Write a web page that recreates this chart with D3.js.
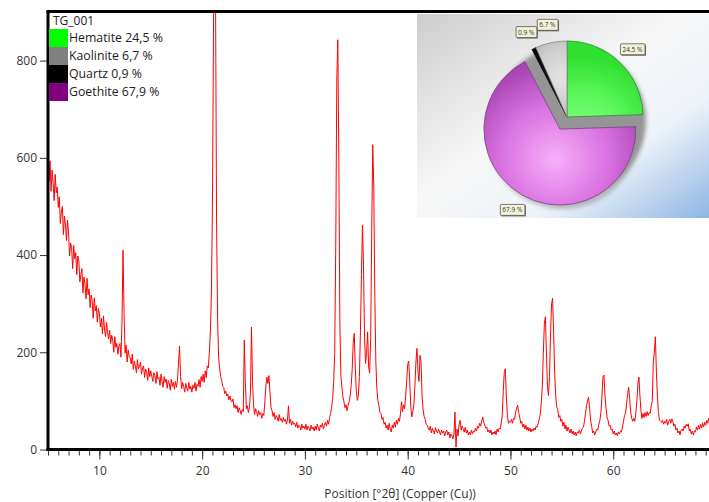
<!DOCTYPE html>
<html>
<head>
<meta charset="utf-8">
<script src="https://cdn.jsdelivr.net/npm/d3@7"></script>
<style>
body { margin: 0; background: #fff; overflow: hidden; }
text { font-family: "Open Sans", "Noto Sans", sans-serif; }
</style>
</head>
<body>
<div id="chart"></div>
<script>
// DATA
// scan grid (degrees 2theta) and measured counts, one row per degree
var scanStart = 5, scanStep = 0.1;
var counts = [
  645, 552, 594, 531, 575, 548, 512, 566, 528, 540,
  498, 520, 465, 488, 500, 442, 480, 462, 430, 472,
  445, 398, 425, 415, 372, 420, 392, 405, 360, 398,
  388, 345, 360, 372, 322, 355, 340, 310, 352, 318,
  330, 292, 318, 305, 270, 312, 285, 296, 262, 290,
  280, 252, 270, 238, 275, 248, 232, 262, 240, 228,
  245, 218, 235, 225, 200, 232, 210, 218, 196, 214,
  218, 190, 262, 410, 280, 198, 215, 180, 205, 192,
  188, 176, 196, 165, 182, 172, 158, 185, 166, 170,
  180, 155, 168, 172, 148, 165, 160, 142, 168, 150,
  162, 150, 140, 158, 152, 136, 160, 145, 148, 132,
  155, 140, 128, 150, 138, 145, 126, 142, 135, 122,
  145, 130, 138, 124, 140, 128, 142, 178, 213, 150,
  125, 138, 130, 118, 136, 126, 120, 138, 124, 130,
  118, 132, 126, 138, 120, 134, 130, 144, 128, 150,
  140, 155, 138, 162, 148, 172, 168, 200, 240, 320,
  500, 850, 1150, 950, 480, 270, 190, 168, 150, 142,
  130, 128, 115, 120, 110, 114, 102, 110, 100, 98,
  104, 86, 92, 84, 90, 76, 86, 80, 72, 82,
  78, 225, 140, 84, 90, 76, 86, 118, 252, 140,
  92, 72, 84, 78, 68, 80, 72, 76, 64, 74,
  70, 98, 130, 149, 136, 152, 118, 86, 80, 68,
  76, 62, 70, 66, 58, 72, 60, 64, 56, 66,
  58, 62, 52, 60, 90, 54, 62, 50, 58, 52,
  54, 46, 56, 44, 50, 48, 40, 52, 44, 48,
  42, 52, 40, 48, 44, 38, 50, 42, 46, 38,
  48, 40, 52, 44, 38, 50, 46, 54, 42, 50,
  56, 48, 60, 52, 66, 74, 88, 105, 140, 200,
  420, 760, 843, 600, 260, 150, 128, 108, 98, 86,
  92, 80, 90, 98, 110, 132, 165, 220, 239, 170,
  120, 101, 112, 150, 240, 360, 462, 380, 230, 177,
  200, 242, 170, 157, 230, 450, 627, 540, 320, 180,
  125, 101, 90, 76, 74, 62, 66, 52, 56, 44,
  50, 40, 54, 42, 36, 50, 44, 56, 46, 60,
  52, 64, 58, 74, 98, 78, 92, 84, 110, 140,
  175, 182, 140, 88, 67, 78, 92, 130, 180, 208,
  160, 140, 194, 180, 110, 82, 68, 62, 52, 50,
  44, 40, 48, 34, 44, 38, 32, 45, 38, 34,
  42, 36, 30, 40, 34, 38, 28, 36, 40, 30,
  36, 24, 32, 28, 22, 32, 77, 5, 42, 28,
  52, 60, 40, 48, 42, 36, 46, 34, 40, 30,
  36, 30, 40, 32, 38, 36, 44, 38, 48, 44,
  54, 48, 58, 67, 56, 50, 44, 46, 36, 40,
  34, 40, 30, 36, 32, 38, 30, 42, 36, 44,
  42, 54, 70, 120, 160, 166, 110, 72, 54, 58,
  56, 62, 54, 64, 62, 76, 85, 91, 76, 66,
  54, 58, 46, 52, 42, 50, 40, 46, 38, 44,
  36, 42, 38, 44, 40, 48, 46, 54, 62, 72,
  95, 130, 200, 260, 273, 200, 130, 111, 150, 240,
  300, 311, 240, 160, 112, 88, 82, 66, 70, 58,
  62, 48, 56, 42, 50, 38, 46, 40, 34, 42,
  32, 38, 30, 36, 28, 36, 34, 40, 32, 38,
  44, 46, 58, 74, 90, 100, 108, 85, 60, 48,
  34, 38, 30, 36, 42, 40, 52, 60, 75, 110,
  150, 153, 110, 85, 66, 60, 48, 50, 40, 42,
  32, 38, 30, 34, 28, 36, 32, 38, 36, 46,
  58, 70, 75, 92, 115, 128, 105, 76, 64, 58,
  64, 58, 75, 100, 135, 149, 110, 80, 64, 74,
  66, 76, 68, 78, 70, 76, 74, 90, 100, 180,
  200, 232, 160, 110, 76, 60, 58, 56, 60, 52,
  58, 54, 62, 50, 58, 62, 54, 63, 58, 48,
  52, 40, 44, 34, 38, 30, 40, 42, 38, 48,
  44, 52, 48, 53, 38, 42, 32, 38, 30, 38,
  36, 46, 40, 50, 42, 52, 44, 54, 46, 56,
  50, 60, 54, 64, 58, 68, 60, 66, 58, 68,
  64
];
var xTicks = [10, 20, 30, 40, 50, 60];
var yTicks = [0, 200, 400, 600, 800];
var sampleName = "TG_001";
var phases = ["Hematite", "Kaolinite", "Quartz", "Goethite"];
var percents = [24.5, 6.7, 0.9, 67.9];
var legendColors = ["#00ff00", "#808080", "#000000", "#800080"];
// clockwise order of the slices in the pie
var pieOrder = ["Hematite", "Goethite", "Quartz", "Kaolinite"];
var explodedPhase = "Goethite";

// SIZE
w = 709;
h = 502;
var plot = { left: 48, top: 12, right: 716, bottom: 449.5 };

var x = d3.scaleLinear().domain([5, 70]).range([plot.left, plot.right]);
var y = d3.scaleLinear().domain([0, 900]).range([plot.bottom, plot.top]);

var svg = d3
  .select("#chart")
  .append("svg")
  .attr("width", w)
  .attr("height", h);

var defs = svg.append("defs");

defs.append("clipPath")
  .attr("id", "plotClip")
  .append("rect")
  .attr("x", plot.left)
  .attr("y", plot.top)
  .attr("width", plot.right - plot.left)
  .attr("height", plot.bottom - plot.top);

// pattern line
var line = d3.line()
  .x(function(d, i) { return x(scanStart + i * scanStep); })
  .y(function(d) { return y(d); });

svg.append("path")
  .datum(counts)
  .attr("clip-path", "url(#plotClip)")
  .attr("d", line)
  .attr("fill", "none")
  .attr("stroke", "#ff0000")
  .attr("stroke-width", 1);

// axes
var yAxis = svg.append("g")
  .attr("transform", "translate(" + (plot.left - 1) + ",0)")
  .call(d3.axisLeft(y).tickValues(yTicks).tickSize(7).tickPadding(3));
yAxis.select(".domain").remove();

var xMinor = svg.append("g")
  .attr("transform", "translate(0," + (plot.bottom + 1) + ")")
  .call(d3.axisBottom(x).tickValues(d3.range(5, 71, 1)).tickSize(5).tickFormat(""));
xMinor.select(".domain").remove();

var xAxis = svg.append("g")
  .attr("transform", "translate(0," + (plot.bottom + 1) + ")")
  .call(d3.axisBottom(x).tickValues(xTicks).tickSize(9).tickPadding(7).tickFormat(d3.format("d")));
xAxis.select(".domain").remove();

svg.selectAll(".tick text")
  .style("font-size", "12px")
  .style("font-family", "'Open Sans', sans-serif")
  .attr("fill", "#333");
svg.selectAll(".tick line").attr("stroke", "#333");

// frame
var frame = svg.append("g").attr("stroke", "#000").attr("stroke-width", 3);
frame.append("line").attr("x1", plot.left).attr("x2", plot.left).attr("y1", plot.top - 1.5).attr("y2", plot.bottom + 1.5);
frame.append("line").attr("x1", plot.left - 1.5).attr("x2", w).attr("y1", plot.bottom).attr("y2", plot.bottom);
frame.append("line").attr("x1", plot.left - 1.5).attr("x2", w).attr("y1", plot.top - 0.5).attr("y2", plot.top - 0.5);

svg.append("text")
  .attr("x", 400)
  .attr("y", 498)
  .attr("text-anchor", "middle")
  .attr("fill", "#333")
  .style("font-size", "12px")
  .text("Position [°2θ] (Copper (Cu))");

// legend
var legend = svg.append("g");
legend.append("text")
  .attr("x", 53)
  .attr("y", 25)
  .attr("fill", "#222")
  .style("font-size", "12px")
  .text(sampleName);

var rows = legend.selectAll("g.row")
  .data(phases)
  .enter()
  .append("g")
  .attr("class", "row")
  .attr("transform", function(d, i) { return "translate(49," + (29 + i * 18) + ")"; });
rows.append("rect")
  .attr("width", 19)
  .attr("height", 18)
  .attr("fill", function(d, i) { return legendColors[i]; });
rows.append("text")
  .attr("x", 20)
  .attr("y", 13)
  .attr("fill", "#222")
  .style("font-size", "12.3px")
  .text(function(d, i) { return d + " " + String(percents[i]).replace(".", ",") + " %"; });

// PIE PANEL
var panel = { x: 417, y: 14, w: 292, h: 204 };
var bg = defs.append("linearGradient").attr("id", "panelBg")
  .attr("x1", 0).attr("y1", 0).attr("x2", 1).attr("y2", 1);
bg.append("stop").attr("offset", 0).attr("stop-color", "#cdcdcd");
bg.append("stop").attr("offset", 0.45).attr("stop-color", "#f7f7f7");
bg.append("stop").attr("offset", 0.7).attr("stop-color", "#eef3f9");
bg.append("stop").attr("offset", 1).attr("stop-color", "#8db6e4");

svg.append("rect")
  .attr("x", panel.x).attr("y", panel.y)
  .attr("width", panel.w).attr("height", panel.h)
  .attr("fill", "url(#panelBg)");

var cx = 567, cy = 117, r = 76;

function radial(id, fx, fy, rr, c0, c1, c2) {
  var g = defs.append("radialGradient").attr("id", id)
    .attr("gradientUnits", "userSpaceOnUse")
    .attr("cx", fx).attr("cy", fy).attr("r", rr);
  g.append("stop").attr("offset", 0).attr("stop-color", c0);
  g.append("stop").attr("offset", 0.6).attr("stop-color", c1);
  g.append("stop").attr("offset", 1).attr("stop-color", c2);
}
radial("gHematite", 15, 20, 80, "#8cff8c", "#55f555", "#30e030");
radial("gGoethite", -5, 30, 95, "#f7b0fa", "#d66ede", "#a946b2");
radial("gKaolinite", -5, -40, 45, "#e4e4e4", "#cfcfcf", "#b5b5b5");
radial("gQuartz", 0, 0, 80, "#333", "#111", "#000");
var strokes = { Hematite: "#2f8a2f", Goethite: "#7d3f86", Kaolinite: "#858585", Quartz: "#000" };

var blur = defs.append("filter").attr("id", "shadowBlur")
  .attr("x", "-20%").attr("y", "-20%").attr("width", "140%").attr("height", "140%");
blur.append("feGaussianBlur").attr("stdDeviation", 2);

var pieData = d3.pie()
  .sort(null)
  .value(function(d) { return percents[phases.indexOf(d)]; })(pieOrder);

var arc = d3.arc().innerRadius(0).outerRadius(r);
var labelArc = d3.arc().innerRadius(94).outerRadius(94);

function offset(d) {
  if (d.data !== explodedPhase) return [0, 0];
  var a = (d.startAngle + d.endAngle) / 2;
  return [Math.sin(a) * 14, -Math.cos(a) * 14];
}

var pieG = svg.append("g").attr("transform", "translate(" + cx + "," + cy + ")");

// shadow: the pie's footprint, and the pulled-out slice
var shadow = pieG.append("g")
  .attr("filter", "url(#shadowBlur)")
  .attr("fill", "#959595");
shadow.append("circle")
  .attr("cx", 3).attr("cy", 4).attr("r", r);
shadow.selectAll("path")
  .data(pieData.filter(function(d) { return d.data === explodedPhase; }))
  .enter()
  .append("path")
  .attr("d", arc)
  .attr("opacity", 0.6)
  .attr("transform", function(d) {
    var o = offset(d);
    return "translate(" + (o[0] + 3) + "," + (o[1] + 4) + ")";
  });

pieG.selectAll("path.slice")
  .data(pieData)
  .enter()
  .append("path")
  .attr("class", "slice")
  .attr("d", arc)
  .attr("fill", function(d) { return "url(#g" + d.data + ")"; })
  .attr("stroke", function(d) { return strokes[d.data]; })
  .attr("stroke-width", 0.8)
  .attr("transform", function(d) {
    var o = offset(d);
    return "translate(" + o[0] + "," + o[1] + ")";
  });

// slice labels
var tags = pieG.selectAll("g.tag")
  .data(pieData)
  .enter()
  .append("g")
  .attr("class", "tag")
  .attr("transform", function(d) {
    var c = labelArc.centroid(d), o = offset(d);
    return "translate(" + (c[0] + o[0]) + "," + (c[1] + o[1]) + ")";
  });
tags.append("text")
  .attr("text-anchor", "middle")
  .attr("dy", "0.35em")
  .attr("fill", "#333")
  .style("font-size", "6.5px")
  .text(function(d) { return d3.format(".1f")(percents[phases.indexOf(d.data)]) + " %"; })
  .each(function(d) { d.bbox = this.getBBox(); });
tags.insert("rect", "text")
  .attr("x", function(d) { return d.bbox.x - 2 + 1; })
  .attr("y", function(d) { return d.bbox.y - 1 + 1; })
  .attr("width", function(d) { return d.bbox.width + 4; })
  .attr("height", function(d) { return d.bbox.height + 2; })
  .attr("fill", "#777");
tags.insert("rect", "text")
  .attr("x", function(d) { return d.bbox.x - 2; })
  .attr("y", function(d) { return d.bbox.y - 1; })
  .attr("width", function(d) { return d.bbox.width + 4; })
  .attr("height", function(d) { return d.bbox.height + 2; })
  .attr("rx", 1)
  .attr("fill", "#f3f1d8")
  .attr("stroke", "#444")
  .attr("stroke-width", 0.7);
</script>
</body>
</html>
